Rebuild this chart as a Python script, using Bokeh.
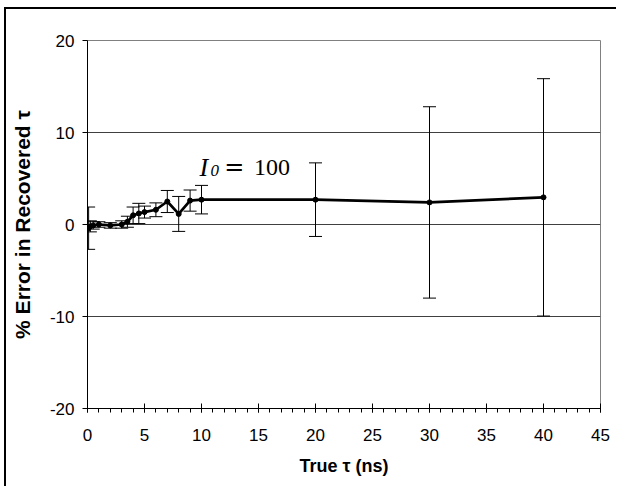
from bokeh.plotting import figure
from bokeh.models import ColumnDataSource, Whisker, TeeHead, Label, Range1d, FixedTicker
from bokeh.embed import file_html
from bokeh.resources import INLINE

# data
tau_true = [0.1, 0.25, 0.5, 1, 2, 3, 3.5, 4, 4.5, 5, 6, 7, 8, 9, 10, 20, 30, 40]
pct_error = [-0.4, -0.2, -0.1, 0.0, -0.1, 0.0, 0.3, 1.0, 1.2, 1.35, 1.6, 2.5, 1.15, 2.6, 2.7, 2.7, 2.4, 2.95]
err_bar = [2.3, 0.6, 0.4, 0.3, 0.3, 0.4, 0.6, 0.9, 1.1, 0.65, 0.75, 1.2, 1.9, 1.15, 1.55, 4.0, 10.4, 12.9]
x_ticks = [0, 5, 10, 15, 20, 25, 30, 35, 40, 45]
x_minor = list(range(0, 46))
y_ticks = [-20, -10, 0, 10, 20]
y_grid = [-10, 0, 10]

src = ColumnDataSource(dict(
    x=tau_true, y=pct_error,
    upper=[v + e for v, e in zip(pct_error, err_bar)],
    lower=[v - e for v, e in zip(pct_error, err_bar)],
))

p = figure(width=612, height=479, output_backend="svg", toolbar_location=None,
           x_range=Range1d(0, 45), y_range=Range1d(-20, 20),
           min_border_left=81, min_border_right=18, min_border_top=31, min_border_bottom=80)
p.styles = {"margin-left": "4px", "margin-top": "7px",
            "border-left": "2px solid #000", "border-top": "2px solid #000"}
p.background_fill_color = "white"
p.border_fill_color = "white"
p.outline_line_color = "#808080"
p.outline_line_width = 1

# grid
p.xgrid.visible = False
p.ygrid.ticker = FixedTicker(ticks=y_grid)
p.ygrid.grid_line_color = "#404040"
p.ygrid.grid_line_width = 1

# axes
p.xaxis.ticker = FixedTicker(ticks=x_ticks, minor_ticks=x_minor)
p.yaxis.ticker = FixedTicker(ticks=y_ticks)
p.yaxis.major_label_overrides = {t: str(t) for t in y_ticks}
for ax in (p.xaxis[0], p.yaxis[0]):
    ax.axis_line_color = "black"
    ax.major_tick_line_color = "black"
    ax.major_label_text_font = "Liberation Sans"
    ax.major_label_text_font_size = "17px"
    ax.major_label_text_color = "black"
    ax.axis_label_text_font = "Liberation Sans"
    ax.axis_label_text_font_style = "bold"
    ax.axis_label_text_color = "black"
p.xaxis.axis_label_text_font_size = "18px"
p.yaxis.axis_label_text_font_size = "21px"
p.xaxis.major_tick_in = 5
p.xaxis.major_tick_out = 4
p.xaxis.minor_tick_in = 0
p.xaxis.minor_tick_out = 4
p.xaxis.minor_tick_line_color = "black"
p.xaxis.major_label_standoff = 16
p.xaxis.axis_label = "True τ (ns)"
p.xaxis.axis_label_standoff = 12
p.yaxis.major_tick_in = 0
p.yaxis.major_tick_out = 5
p.yaxis.minor_tick_line_color = None
p.yaxis.major_label_standoff = 8
p.yaxis.axis_label = "% Error in Recovered τ"
p.yaxis.axis_label_standoff = 13

# error bars
wh = Whisker(source=src, base="x", upper="upper", lower="lower", dimension="height",
             line_color="black", line_width=1,
             upper_head=TeeHead(size=13, line_color="black", line_width=1),
             lower_head=TeeHead(size=13, line_color="black", line_width=1))
p.add_layout(wh)

p.line("x", "y", source=src, line_color="black", line_width=2.7)
p.scatter("x", "y", source=src, size=5, color="black")

# annotation I0 = 100
serif = "Liberation Serif"
p.add_layout(Label(x=9.82, y=6.25, text="I", text_font=serif, text_font_style="italic",
                   text_font_size="26px", text_color="black", text_baseline="alphabetic"))
p.add_layout(Label(x=10.8, y=5.9, text="0", text_font=serif, text_font_style="italic",
                   text_font_size="17px", text_color="black", text_baseline="alphabetic"))
p.add_layout(Label(x=12.0, y=6.25, text="=", text_font="DejaVu Serif",
                   text_font_size="24px", text_color="black", text_baseline="alphabetic"))
p.add_layout(Label(x=14.6, y=6.25, text="100", text_font=serif,
                   text_font_size="24px", text_color="black", text_baseline="alphabetic"))

open("out.html", "w").write(file_html(p, INLINE))
